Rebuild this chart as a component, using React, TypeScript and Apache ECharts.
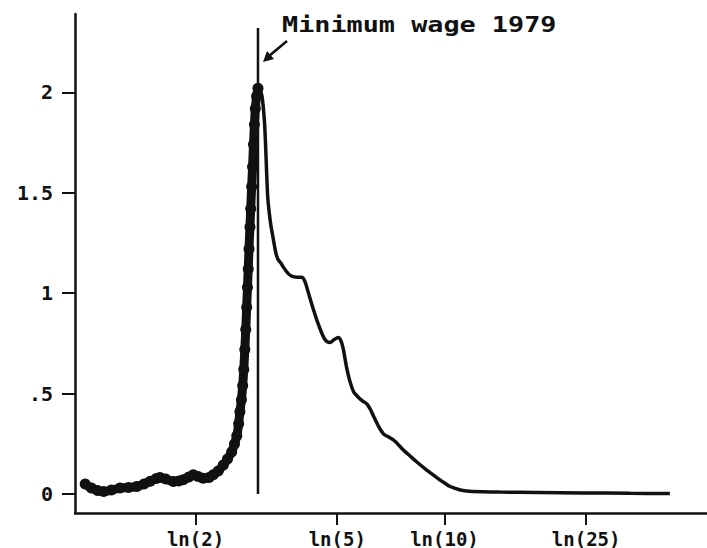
import React, { useEffect, useRef } from "react";
import * as echarts from "echarts";

// log wage values (x) and density (y)
const lowerX = [-0.02, 0.02, 0.06, 0.1, 0.15, 0.205, 0.26, 0.313, 0.36, 0.4, 0.44, 0.463, 0.5, 0.55, 0.585, 0.614, 0.65, 0.679, 0.71, 0.743, 0.78, 0.808, 0.84, 0.873, 0.9, 0.927, 0.945, 0.96, 0.972, 0.98, 0.99, 0.998, 1.005, 1.012, 1.018, 1.024, 1.029, 1.034, 1.039, 1.045, 1.05, 1.056, 1.062, 1.068, 1.074, 1.08, 1.088, 1.097];
const lowerY = [0.05, 0.03, 0.018, 0.013, 0.02, 0.03, 0.033, 0.038, 0.05, 0.064, 0.078, 0.083, 0.075, 0.063, 0.065, 0.071, 0.085, 0.096, 0.088, 0.079, 0.083, 0.096, 0.115, 0.145, 0.175, 0.21, 0.25, 0.29, 0.35, 0.41, 0.47, 0.54, 0.62, 0.72, 0.82, 0.93, 1.03, 1.12, 1.22, 1.33, 1.42, 1.53, 1.63, 1.74, 1.84, 1.92, 1.98, 2.02];

const upperX = [1.097, 1.112, 1.123, 1.132, 1.14, 1.147, 1.153, 1.16, 1.17, 1.18, 1.196, 1.21, 1.225, 1.245, 1.261, 1.29, 1.315, 1.35, 1.38, 1.4, 1.42, 1.455, 1.49, 1.53, 1.563, 1.59, 1.617, 1.635, 1.649, 1.67, 1.692, 1.715, 1.736, 1.77, 1.8, 1.825, 1.843, 1.875, 1.908, 1.94, 1.972, 2.0, 2.037, 2.08, 2.124, 2.18, 2.23, 2.29, 2.34, 2.4, 2.447, 2.55, 2.66, 2.9, 3.2, 3.5, 3.76];
const upperY = [2.02, 2.01, 1.98, 1.92, 1.84, 1.72, 1.6, 1.48, 1.4, 1.34, 1.27, 1.21, 1.17, 1.15, 1.13, 1.1, 1.085, 1.08, 1.08, 1.06, 1.01, 0.92, 0.84, 0.77, 0.755, 0.77, 0.78, 0.76, 0.72, 0.63, 0.56, 0.51, 0.49, 0.465, 0.45, 0.42, 0.39, 0.34, 0.3, 0.285, 0.27, 0.25, 0.22, 0.19, 0.16, 0.125, 0.096, 0.062, 0.038, 0.022, 0.016, 0.012, 0.01, 0.008, 0.006, 0.004, 0.003];

const minWageLog = 1.097;
const minWageLineY = [0, 2.32];
const annotation = "Minimum wage 1979";

const xTickValues = [Math.log(2), Math.log(5), Math.log(10), Math.log(25)];
const xTickLabels = ["ln(2)", "ln(5)", "ln(10)", "ln(25)"];
const yTickValues = [0, 0.5, 1, 1.5, 2];
const yTickLabels = ["0", ".5", "1", "1.5", "2"];

const FONT = "'DejaVu Sans Mono', 'Liberation Mono', monospace";
const INK = "#111";

export default function App() {
  const ref = useRef<HTMLDivElement>(null);
  useEffect(() => {
    if (!ref.current) return;
    const chart = echarts.init(ref.current, null, { renderer: "svg" });
    const lower = lowerX.map((x, i) => [x, lowerY[i]]);
    const upper = upperX.map((x, i) => [x, upperY[i]]);
    const vline = minWageLineY.map((y) => [minWageLog, y]);
    chart.setOption({
      animation: false,
      backgroundColor: "#fff",
      grid: { left: 75, right: 0, top: 14, bottom: 33, containLabel: false },
      xAxis: {
        type: "value",
        min: -0.086,
        max: 4.0,
        splitLine: { show: false },
        axisLine: { show: true, onZero: false, lineStyle: { color: INK, width: 2.5 } },
        axisTick: { show: true, length: 12, customValues: xTickValues, lineStyle: { color: INK, width: 2 } },
        axisLabel: {
          customValues: xTickValues,
          margin: 16,
          color: INK,
          fontFamily: FONT,
          fontWeight: "bold",
          fontSize: 19,
          formatter: (v: number) => {
            const i = xTickValues.findIndex((t) => Math.abs(t - v) < 1e-6);
            return i >= 0 ? xTickLabels[i] : "";
          },
        },
      },
      yAxis: {
        type: "value",
        min: -0.094,
        max: 2.39,
        splitLine: { show: false },
        axisLine: { show: true, onZero: false, lineStyle: { color: INK, width: 2.5 } },
        axisTick: { show: true, length: 13, customValues: yTickValues, lineStyle: { color: INK, width: 2 } },
        axisLabel: {
          customValues: yTickValues,
          margin: 22,
          color: INK,
          fontFamily: FONT,
          fontWeight: "bold",
          fontSize: 20,
          formatter: (v: number) => {
            const i = yTickValues.findIndex((t) => Math.abs(t - v) < 1e-6);
            return i >= 0 ? yTickLabels[i] : "";
          },
        },
      },
      series: [
        {
          type: "line",
          data: lower,
          smooth: 0.3,
          showSymbol: true,
          symbol: "circle",
          symbolSize: 11,
          itemStyle: { color: INK },
          lineStyle: { color: INK, width: 9 },
          z: 3,
        },
        {
          type: "line",
          data: upper,
          smooth: 0.3,
          showSymbol: false,
          lineStyle: { color: INK, width: 3.5 },
          z: 3,
        },
        {
          type: "line",
          data: vline,
          showSymbol: false,
          lineStyle: { color: INK, width: 2.5 },
          z: 2,
        },
      ],
      graphic: [
        {
          type: "text",
          x: 282,
          y: 13,
          scaleX: 1.22,
          style: {
            text: annotation,
            fill: INK,
            font: `bold 22px ${FONT}`,
          },
        },
        {
          type: "line",
          shape: { x1: 287, y1: 41, x2: 269, y2: 56 },
          style: { stroke: INK, lineWidth: 2.5 },
        },
        {
          type: "polygon",
          shape: { points: [[263, 62], [274, 59], [267, 51]] },
          style: { fill: INK },
        },
      ],
    });
    return () => chart.dispose();
  }, []);
  return <div ref={ref} style={{ width: 707, height: 548, position: "absolute", left: 0, top: 0 }} />;
}
